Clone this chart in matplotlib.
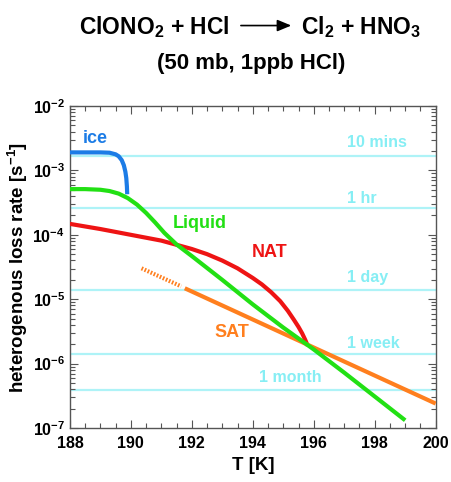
import matplotlib.pyplot as plt
import numpy as np
from matplotlib.patches import FancyArrowPatch
from matplotlib.ticker import MultipleLocator, LogLocator, NullFormatter

plt.rcParams['font.family'] = ['Liberation Sans', 'DejaVu Sans']
plt.rcParams['font.weight'] = 'bold'

# curves (T in K, log10 of rate in s^-1)
ice_T = [188.0, 189.0, 189.3, 189.5, 189.6, 189.7, 189.77, 189.82, 189.85, 189.87, 189.88]
ice_log = [-2.72, -2.72, -2.725, -2.75, -2.78, -2.84, -2.92, -3.02, -3.12, -3.25, -3.37]

liq_T = [188.0, 188.5, 189.0, 189.3, 189.6, 189.9, 190.2, 190.5, 190.8, 191.1, 191.5, 192.0, 193.0, 194.0, 195.0, 196.0, 197.0, 198.0, 199.0]
liq_log = [-3.29, -3.29, -3.30, -3.32, -3.36, -3.43, -3.53, -3.66, -3.81, -3.97, -4.15, -4.33, -4.70, -5.08, -5.44, -5.78, -6.14, -6.51, -6.88]

nat_T = [188.0, 189.0, 190.0, 191.0, 192.0, 192.5, 193.0, 193.5, 194.0, 194.3, 194.6, 194.9, 195.15, 195.35, 195.5, 195.62, 195.72, 195.8]
nat_log = [-3.83, -3.91, -4.00, -4.09, -4.22, -4.30, -4.40, -4.52, -4.67, -4.77, -4.89, -5.03, -5.18, -5.32, -5.43, -5.53, -5.63, -5.72]

sat_dot_T = [190.35, 191.65]
sat_dot_log = [-4.52, -4.80]
sat_T = [191.77, 200.0]
sat_log = [-4.83, -6.62]

# reference timescales
time_labels = ['10 mins', '1 hr', '1 day', '1 week', '1 month']
time_rates = [1.65e-3, 2.65e-4, 1.4e-5, 1.4e-6, 3.9e-7]
time_label_T = [197.1, 197.1, 197.1, 197.1, 194.2]
time_label_log = [-2.57, -3.43, -4.66, -5.68, -6.22]

fig = plt.figure(figsize=(4.51, 4.82), dpi=100)
ax = fig.add_axes([0.155, 0.112, 0.811, 0.668])

cyan_line = '#aef3f7'
cyan_text = '#86eef4'
for r in time_rates:
    ax.axhline(r, color=cyan_line, lw=1.6, zorder=1)
for lab, t, l in zip(time_labels, time_label_T, time_label_log):
    ax.text(t, 10**l, lab, color=cyan_text, fontsize=11.5, fontweight='bold',
            va='center', ha='left', zorder=2)

blue = '#1c7ce6'
green = '#22e014'
red = '#ee1414'
orange = '#ff7f1e'

ax.plot(ice_T, 10**np.array(ice_log), color=blue, lw=3, solid_capstyle='butt', zorder=3)
ax.plot(nat_T, 10**np.array(nat_log), color=red, lw=3, solid_capstyle='butt', zorder=3)
ax.plot(sat_dot_T, 10**np.array(sat_dot_log), color=orange, lw=3, ls=(0, (0.4, 0.4)), zorder=3)
ax.plot(sat_T, 10**np.array(sat_log), color=orange, lw=3, solid_capstyle='butt', zorder=3)
ax.plot(liq_T, 10**np.array(liq_log), color=green, lw=3, solid_capstyle='butt', zorder=4)

ax.text(188.43, 10**-2.51, 'ice', color=blue, fontsize=13, fontweight='bold', va='center')
ax.text(191.38, 10**-3.82, 'Liquid', color=green, fontsize=13, fontweight='bold', va='center')
ax.text(193.97, 10**-4.28, 'NAT', color=red, fontsize=13, fontweight='bold', va='center')
ax.text(192.75, 10**-5.52, 'SAT', color=orange, fontsize=13, fontweight='bold', va='center')

ax.set_yscale('log')
ax.set_xlim(188, 200)
ax.set_ylim(1e-7, 1e-2)
ax.xaxis.set_major_locator(MultipleLocator(2))
ax.xaxis.set_minor_locator(MultipleLocator(0.5))
ax.yaxis.set_major_locator(LogLocator(base=10))
ax.yaxis.set_minor_locator(LogLocator(base=10, subs=np.arange(2, 10)))
ax.yaxis.set_minor_formatter(NullFormatter())
ax.tick_params(which='both', direction='in', top=True, right=True, colors='#555555',
               labelcolor='black', labelsize=11.5, width=0.8)
ax.tick_params(which='major', length=6)
ax.tick_params(which='minor', length=3.5)
ax.tick_params(axis='x', pad=6)
for lab in ax.get_xticklabels() + ax.get_yticklabels():
    lab.set_fontweight('bold')
for s in ax.spines.values():
    s.set_color('#555555')
    s.set_linewidth(1)

ax.set_xlabel('T [K]', fontsize=13.5, fontweight='bold', labelpad=4)
ax.set_ylabel('heterogenous loss rate [s$^{\\mathdefault{-1}}$]', fontsize=13.5, fontweight='bold')
ax.yaxis.set_label_coords(-0.11, 0.5)

# title with reaction arrow
ty = 0.943
fig.text(0.51, ty, 'ClONO$_{\\mathdefault{2}}$ + HCl', fontsize=16.5, fontweight='bold', ha='right', va='center')
fig.text(0.668, ty, 'Cl$_{\\mathdefault{2}}$ + HNO$_{\\mathdefault{3}}$', fontsize=16.5, fontweight='bold', ha='left', va='center')
fig.add_artist(FancyArrowPatch((0.528, ty + 0.004), (0.652, ty + 0.004), transform=fig.transFigure,
               arrowstyle='-|>,head_length=0.6,head_width=0.25', mutation_scale=14, color='black', lw=1.2))
fig.text(0.557, 0.868, '(50 mb, 1ppb HCl)', fontsize=16, fontweight='bold', ha='center', va='center')

fig.savefig('out.png', dpi=100)
